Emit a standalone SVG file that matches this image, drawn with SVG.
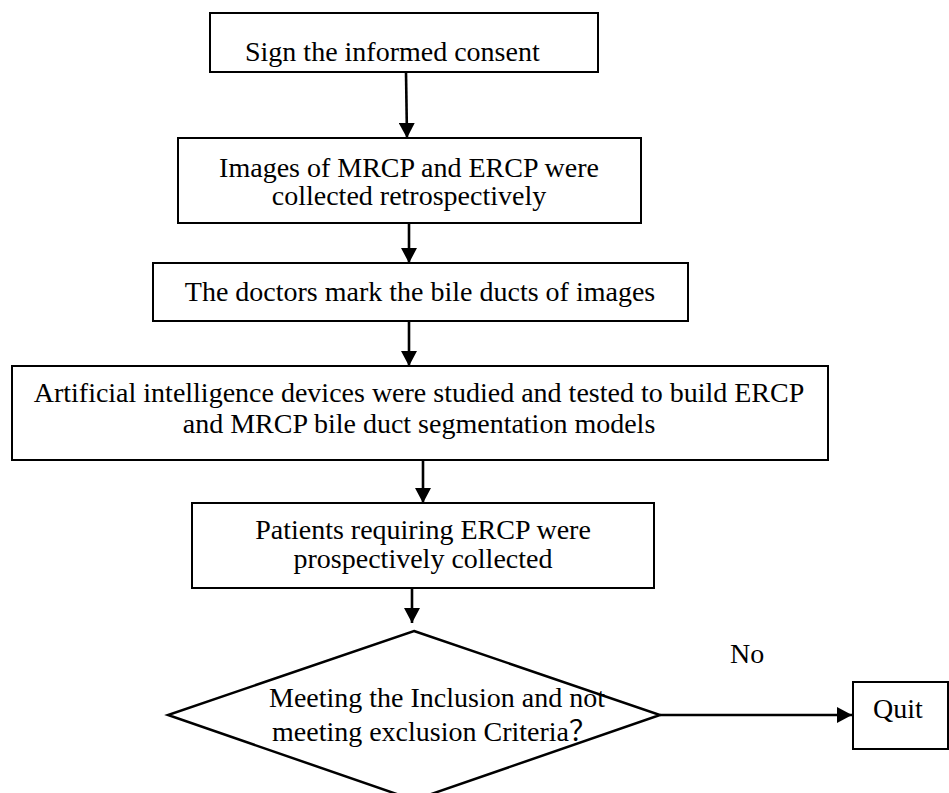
<svg xmlns="http://www.w3.org/2000/svg" width="949" height="793" viewBox="0 0 949 793">
<style>
.box{fill:#fff;stroke:#000;stroke-width:2}
.dia{fill:#fff;stroke:#000;stroke-width:2.5}
.t{font-family:"Liberation Serif","Times New Roman","Noto Sans CJK SC",serif;font-size:28px;fill:#000}
.m{text-anchor:middle}
.c{stroke:#000;stroke-width:2.6;fill:none}
</style>
<defs>
<marker id="ah" markerUnits="userSpaceOnUse" markerWidth="16" markerHeight="16" refX="15" refY="8" orient="auto">
<path d="M0,0 L15,8 L0,16 z" fill="#000"/>
</marker>
</defs>
<rect width="949" height="793" fill="#fff"/>
<g id="n1"><rect class="box" x="210" y="13" width="388" height="59"/><text class="t" x="245" y="61">Sign the informed consent</text></g>
<g id="n2"><rect class="box" x="178" y="138" width="463" height="85"/><text class="t m" x="409" y="177">Images of MRCP and ERCP were</text><text class="t m" x="409" y="205">collected retrospectively</text></g>
<g id="n3"><rect class="box" x="153" y="263" width="535" height="58"/><text class="t m" x="420" y="301">The doctors mark the bile ducts of images</text></g>
<g id="n4"><rect class="box" x="12" y="366" width="816" height="94"/><text class="t m" x="419" y="402">Artificial intelligence devices were studied and tested to build ERCP</text><text class="t m" x="419" y="433">and MRCP bile duct segmentation models</text></g>
<g id="n5"><rect class="box" x="192" y="503" width="462" height="85"/><text class="t m" x="423" y="539">Patients requiring ERCP were</text><text class="t m" x="423" y="568">prospectively collected</text></g>
<g id="n6"><polygon class="dia" points="414,631 660,715 414,800 168,715"/><text class="t" x="269" y="707">Meeting the Inclusion and not</text><text class="t" x="272" y="741">meeting exclusion Criteria？</text></g>
<g id="n7"><rect class="box" x="853" y="682" width="95" height="67"/><text class="t" x="873" y="718">Quit</text></g>
<g id="connectors">
<line class="c" x1="406" y1="72" x2="407" y2="138" marker-end="url(#ah)"/>
<line class="c" x1="409" y1="223" x2="409" y2="263" marker-end="url(#ah)"/>
<line class="c" x1="409" y1="321" x2="409" y2="366" marker-end="url(#ah)"/>
<line class="c" x1="423" y1="460" x2="423" y2="503" marker-end="url(#ah)"/>
<line class="c" x1="412" y1="588" x2="412" y2="623" marker-end="url(#ah)"/>
<line class="c" x1="660" y1="715" x2="852" y2="715" marker-end="url(#ah)"/>
<text class="t" x="730" y="663">No</text>
</g>
</svg>
